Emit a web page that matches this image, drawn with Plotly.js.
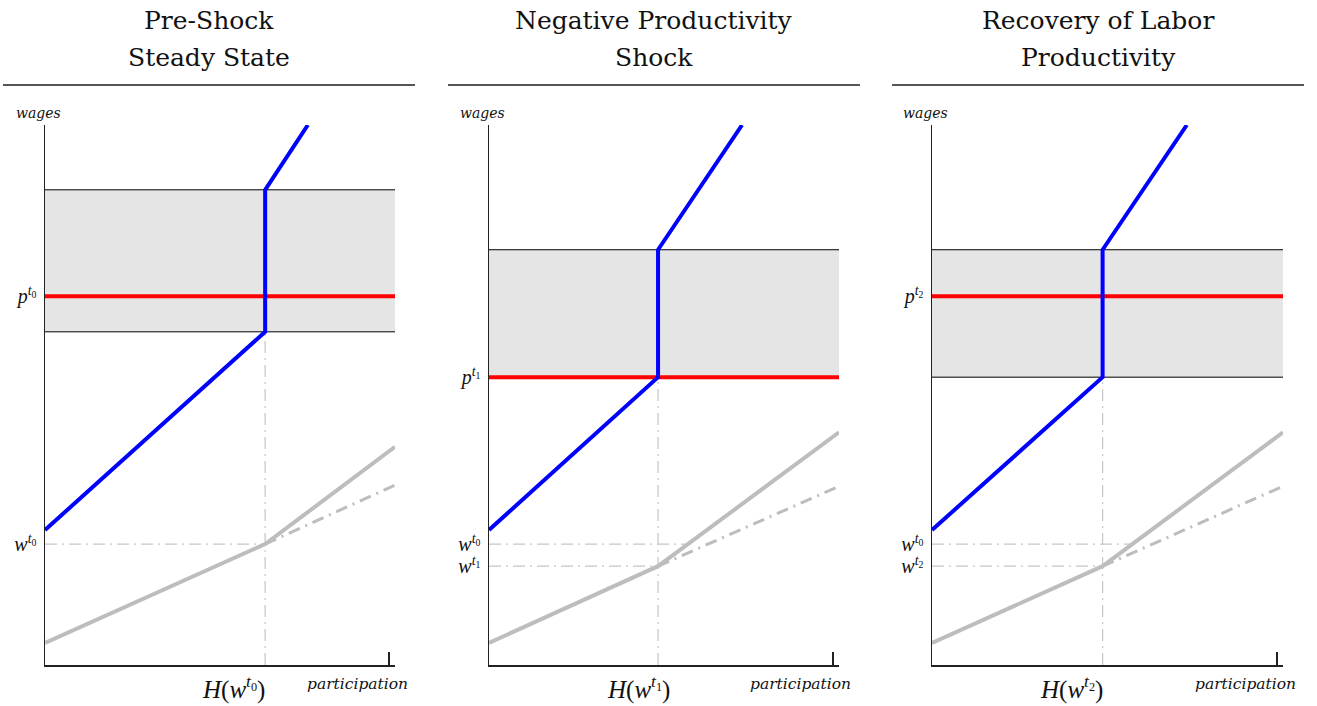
<!DOCTYPE html>
<html>
<head>
<meta charset="utf-8">
<script src="https://cdn.plot.ly/plotly-3.0.1.min.js"></script>
<style>
html,body{margin:0;padding:0;background:#fff;}
#chart{width:1317px;height:706px;}
</style>
</head>
<body>
<div id="chart"></div>
<script>
// ---- data (wages on y, participation on x; arbitrary units 0..10) ----
const titlesLine1 = ["Pre-Shock", "Negative Productivity", "Recovery of Labor"];
const titlesLine2 = ["Steady State", "Shock", "Productivity"];
const periodIndex = ["0", "1", "2"];

const wageMax = 10;
const participationMax = 10;
const participationTick = 9.83;

const bandLow = [6.17, 5.33, 5.33];     // lower edge of shaded band
const bandHigh = [8.80, 7.69, 7.69];    // upper edge of shaded band
const priceP = [6.83, 5.33, 6.83];      // p^t (red line)
const hKink = [6.29, 4.83, 4.86];       // H(w^t)
const blueStart = [2.50, 2.50, 2.50];   // blue curve at zero participation
const blueTopX = [7.51, 7.23, 7.26];    // blue curve where it reaches wageMax
const grayStart = [0.41, 0.41, 0.41];   // gray curve at zero participation
const wageT = [2.24, 1.83, 1.83];       // w^t (gray kink)
const grayEnd = [4.04, 4.31, 4.31];     // gray solid curve at participationMax
const grayDashEnd = [3.33, 3.31, 3.31]; // gray dash-dot continuation at participationMax
const wageT0 = 2.24;                    // reference pre-shock wage w^t0
const wageT0LineEnd = [6.29, 5.69, 5.71];

// ---- layout helpers ----
const W = 1317, H = 706;
const xDomPx = [[45, 395], [489, 839], [932, 1283]];
const yDomPx = [125, 665];
const serif = "Liberation Serif";
const titleFont = "DejaVu Serif";
const serifIt = "DejaVu Serif";
const guideColor = "#c6c6c6";
const grayColor = "#bdbdbd";

const traces = [];
const layout = {
  width: W, height: H,
  margin: {l: 0, r: 0, t: 0, b: 0},
  paper_bgcolor: "#fff", plot_bgcolor: "rgba(0,0,0,0)",
  showlegend: false, hovermode: false,
  font: {family: serif, color: "#111"},
  annotations: [], shapes: []
};

function ax(i) { return i === 0 ? "" : String(i + 1); }
function mathT(base, k) { return "<i>" + base + "</i><sup><i>t</i><sub>" + periodIndex[k] + "</sub></sup>"; }

for (let i = 0; i < 3; i++) {
  const xa = "x" + ax(i), ya = "y" + ax(i);
  const common = {xaxis: xa, yaxis: ya, mode: "lines", hoverinfo: "skip"};

  // shaded band
  traces.push(Object.assign({}, common, {
    x: [0, participationMax, participationMax, 0, 0],
    y: [bandLow[i], bandLow[i], bandHigh[i], bandHigh[i], bandLow[i]],
    fill: "toself", fillcolor: "#e5e5e5", line: {width: 0, color: "rgba(0,0,0,0)"}
  }));
  traces.push(Object.assign({}, common, {
    x: [0, participationMax, null, 0, participationMax],
    y: [bandLow[i], bandLow[i], null, bandHigh[i], bandHigh[i]],
    line: {color: "#000", width: 1}
  }));

  // guide lines
  traces.push(Object.assign({}, common, {
    x: [hKink[i], hKink[i]], y: [0, bandLow[i]],
    line: {color: guideColor, width: 1.2, dash: "12px,5px,2px,5px"}
  }));
  traces.push(Object.assign({}, common, {
    x: [0, wageT0LineEnd[i]], y: [wageT0, wageT0],
    line: {color: guideColor, width: 1.2, dash: "12px,5px,2px,5px"}
  }));
  if (i > 0) {
    traces.push(Object.assign({}, common, {
      x: [0, hKink[i]], y: [wageT[i], wageT[i]],
      line: {color: guideColor, width: 1.2, dash: "12px,5px,2px,5px"}
    }));
  }

  // gray curves
  traces.push(Object.assign({}, common, {
    x: [hKink[i], participationMax], y: [wageT[i], grayDashEnd[i]],
    line: {color: grayColor, width: 3, dash: "12px,6px,2px,6px"}
  }));
  traces.push(Object.assign({}, common, {
    x: [0, hKink[i], participationMax], y: [grayStart[i], wageT[i], grayEnd[i]],
    line: {color: grayColor, width: 4}
  }));

  // red price line
  traces.push(Object.assign({}, common, {
    x: [0, participationMax], y: [priceP[i], priceP[i]],
    line: {color: "#ff0000", width: 4}
  }));

  // blue curve
  traces.push(Object.assign({}, common, {
    x: [0, hKink[i], hKink[i], blueTopX[i]],
    y: [blueStart[i], bandLow[i], bandHigh[i], wageMax],
    line: {color: "#0000ff", width: 4}
  }));

  // axes
  const tv = [priceP[i], wageT0];
  const tt = [mathT("p", i), mathT("w", 0)];
  if (i > 0) { tv.push(wageT[i]); tt.push(mathT("w", i)); }

  layout["xaxis" + ax(i)] = {
    domain: [xDomPx[i][0] / W, xDomPx[i][1] / W], range: [0, participationMax],
    anchor: ya, showline: true, linecolor: "#222", linewidth: 1.5,
    showgrid: false, zeroline: false, fixedrange: true,
    ticks: "inside", tickvals: [participationTick], ticktext: [""],
    ticklen: 13, tickwidth: 1.3, tickcolor: "#222"
  };
  layout["yaxis" + ax(i)] = {
    domain: [1 - yDomPx[1] / H, 1 - yDomPx[0] / H], range: [0, wageMax],
    anchor: xa, showline: true, linecolor: "#222", linewidth: 1.5,
    showgrid: false, zeroline: false, fixedrange: true,
    ticks: "", tickvals: tv, ticktext: tt, ticklabelstandoff: 3,
    tickfont: {family: serif, size: 20, color: "#111"}
  };

  // titles
  const cx = [209, 654, 1098][i];
  layout.annotations.push({
    xref: "paper", yref: "paper", x: cx / W, y: 1 - 20 / H, xanchor: "center", yanchor: "middle",
    text: titlesLine1[i], showarrow: false, font: {family: titleFont, size: 25, color: "#111"}
  });
  layout.annotations.push({
    xref: "paper", yref: "paper", x: cx / W, y: 1 - 57 / H, xanchor: "center", yanchor: "middle",
    text: titlesLine2[i], showarrow: false, font: {family: titleFont, size: 25, color: "#111"}
  });
  const rule = [[3, 415], [448, 860], [892, 1304]][i];
  layout.shapes.push({
    type: "line", xref: "paper", yref: "paper",
    x0: rule[0] / W, x1: rule[1] / W, y0: 1 - 85 / H, y1: 1 - 85 / H,
    line: {color: "#555", width: 1.8}
  });

  // axis name labels
  layout.annotations.push({
    xref: "paper", yref: "paper", x: (xDomPx[i][0] - 31) / W, y: 1 - 113 / H,
    xanchor: "left", yanchor: "middle", text: "<i>wages</i>", showarrow: false,
    font: {family: serifIt, size: 14, color: "#111"}
  });
  layout.annotations.push({
    xref: "paper", yref: "paper", x: (xDomPx[i][1] - 38) / W, y: 1 - 684 / H,
    xanchor: "center", yanchor: "middle", text: "<i>participation</i>", showarrow: false,
    font: {family: serifIt, size: 15.5, color: "#111"}
  });
  layout.annotations.push({
    xref: xa, yref: "paper", x: hKink[i], xshift: [2, 14, 2][i], y: 1 - 687 / H,
    xanchor: "right", yanchor: "middle", text: "<i>H</i>(" + mathT("w", i) + ")", showarrow: false,
    font: {family: serif, size: 25, color: "#111"}
  });
}

Plotly.newPlot("chart", traces, layout, {displayModeBar: false, staticPlot: true});
</script>
</body>
</html>
